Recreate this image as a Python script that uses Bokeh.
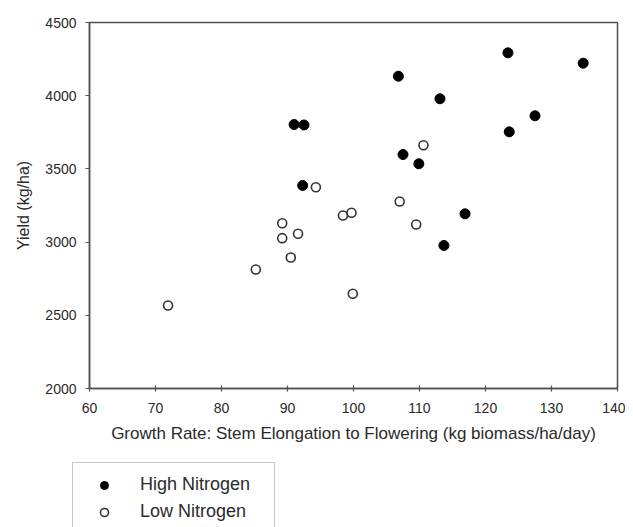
from bokeh.plotting import figure
from bokeh.layouts import column, row
from bokeh.models import ColumnDataSource, Legend, LegendItem, Range1d, FixedTicker
from bokeh.embed import file_html
from bokeh.resources import INLINE

# High Nitrogen (filled)
high_x = [91.0, 92.5, 92.3, 123.4, 134.8, 106.8, 113.1, 127.5, 123.6, 107.5, 109.9, 116.9, 113.7]
high_y = [3803, 3800, 3387, 4293, 4222, 4133, 3979, 3863, 3753, 3598, 3535, 3193, 2977]

# Low Nitrogen (open)
low_x = [71.9, 85.2, 89.2, 89.2, 91.6, 90.5, 94.3, 98.4, 99.7, 107.0, 110.6, 109.5, 99.9]
low_y = [2567, 2813, 3129, 3027, 3057, 2895, 3375, 3182, 3200, 3277, 3662, 3120, 2647]

x_ticks = [60, 70, 80, 90, 100, 110, 120, 130, 140]
y_ticks = [2000, 2500, 3000, 3500, 4000, 4500]

FONT = "Liberation Sans"
TXT = "#2a2a2a"
AX = "#505050"

p = figure(width=625, height=450, output_backend="svg", toolbar_location=None,
           x_range=Range1d(60, 140), y_range=Range1d(2000, 4500),
           min_border_left=89, min_border_right=8, min_border_top=22, min_border_bottom=62)
p.xgrid.visible = False
p.ygrid.visible = False
p.outline_line_color = AX
p.outline_line_width = 1.5

for ax in (p.xaxis[0], p.yaxis[0]):
    ax.axis_line_color = AX
    ax.axis_line_width = 1.5
    ax.major_tick_line_color = AX
    ax.major_tick_line_width = 1.2
    ax.minor_tick_line_color = None
    ax.major_label_text_font = FONT
    ax.major_label_text_font_size = "14px"
    ax.major_label_text_color = TXT
    ax.axis_label_text_font = FONT
    ax.axis_label_text_font_style = "normal"
    ax.axis_label_text_color = TXT

p.xaxis[0].ticker = FixedTicker(ticks=x_ticks)
p.yaxis[0].ticker = FixedTicker(ticks=y_ticks)
p.xaxis[0].axis_label = "Growth Rate: Stem Elongation to Flowering (kg biomass/ha/day)"
p.yaxis[0].axis_label = "Yield (kg/ha)"
p.xaxis[0].axis_label_text_font_size = "17px"
p.yaxis[0].axis_label_text_font_size = "16px"
p.xaxis[0].major_tick_out = 3
p.xaxis[0].major_tick_in = 3
p.yaxis[0].major_tick_out = 4
p.yaxis[0].major_tick_in = 0
p.xaxis[0].major_label_standoff = 11
p.xaxis[0].axis_label_standoff = 8
p.yaxis[0].major_label_standoff = 9
p.yaxis[0].axis_label_standoff = 10

hs = ColumnDataSource(dict(x=high_x, y=high_y))
ls = ColumnDataSource(dict(x=low_x, y=low_y))
high_style = dict(fill_color="black", line_color="black", line_width=1)
low_style = dict(fill_color="white", line_color="#333333", line_width=1.6)
p.scatter("x", "y", source=hs, size=10, **high_style)
p.scatter("x", "y", source=ls, size=9, **low_style)

# legend strip below the chart (legend entries refer to the same series)
lg = figure(width=625, height=77, output_backend="svg", toolbar_location=None,
            x_range=Range1d(0, 1), y_range=Range1d(0, 1),
            x_axis_type=None, y_axis_type=None,
            min_border_left=0, min_border_right=0, min_border_top=0, min_border_bottom=0)
lg.xgrid.visible = False
lg.ygrid.visible = False
lg.outline_line_color = None
rh = lg.scatter("x", "y", source=hs, size=10, **high_style)
rl = lg.scatter("x", "y", source=ls, size=9, **low_style)

legend = Legend(items=[LegendItem(label="High Nitrogen", renderers=[rh]),
                       LegendItem(label="Low Nitrogen", renderers=[rl])],
                location=(72, -7))
legend.border_line_color = "#909090"
legend.border_line_width = 1.2
legend.padding = 11
legend.margin = 0
legend.glyph_width = 40
legend.glyph_height = 20
legend.label_height = 20
legend.label_width = 123
legend.spacing = 6
legend.label_standoff = 16
legend.label_text_font = FONT
legend.label_text_font_size = "18px"
legend.label_text_color = TXT
legend.background_fill_alpha = 1
lg.add_layout(legend, "center")

layout = column(p, row(lg, spacing=0), spacing=0)
open("out.html", "w").write(file_html(layout, INLINE))
